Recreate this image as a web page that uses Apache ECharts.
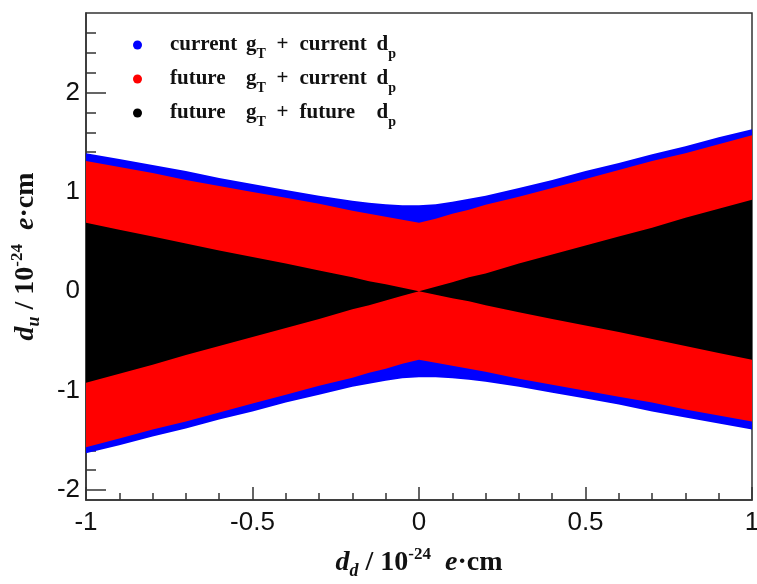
<!DOCTYPE html>
<html>
<head>
<meta charset="utf-8">
<script src="https://cdn.jsdelivr.net/npm/echarts@6/dist/echarts.min.js"></script>
<style>
html,body{margin:0;padding:0;background:#fff;}
#main{width:757px;height:584px;}
</style>
</head>
<body>
<div id="main"></div>
<script>
// x grid of d_d values
const xs = [-1,-0.9,-0.8,-0.7,-0.6,-0.5,-0.4,-0.3,-0.2,-0.15,-0.1,-0.05,0,0.05,0.1,0.15,0.2,0.3,0.4,0.5,0.6,0.7,0.8,0.9,1];
// current gT + current dp (blue)
const blueUpper = [1.39,1.33,1.27,1.21,1.14,1.08,1.02,0.96,0.91,0.89,0.875,0.865,0.865,0.875,0.90,0.93,0.96,1.04,1.12,1.21,1.29,1.38,1.46,1.55,1.63];
const blueLower = [-1.63,-1.55,-1.46,-1.38,-1.29,-1.21,-1.12,-1.04,-0.96,-0.93,-0.90,-0.875,-0.865,-0.865,-0.875,-0.89,-0.91,-0.96,-1.02,-1.08,-1.14,-1.21,-1.27,-1.33,-1.39];
// future gT + current dp (red)
const redUpper = [1.31,1.25,1.19,1.12,1.06,1.00,0.94,0.88,0.81,0.78,0.75,0.72,0.69,0.73,0.78,0.82,0.87,0.95,1.04,1.13,1.22,1.31,1.39,1.48,1.57];
const redLower = [-1.57,-1.48,-1.39,-1.31,-1.22,-1.13,-1.04,-0.95,-0.87,-0.82,-0.78,-0.73,-0.69,-0.72,-0.75,-0.78,-0.81,-0.88,-0.94,-1.00,-1.06,-1.12,-1.19,-1.25,-1.31];
// future gT + future dp (black)
const blackUpper = [0.69,0.62,0.55,0.48,0.41,0.345,0.28,0.21,0.14,0.10,0.07,0.035,0,0.046,0.092,0.14,0.18,0.28,0.37,0.46,0.55,0.64,0.74,0.83,0.92];
const blackLower = [-0.92,-0.83,-0.74,-0.64,-0.55,-0.46,-0.37,-0.28,-0.18,-0.14,-0.092,-0.046,0,-0.035,-0.07,-0.10,-0.14,-0.21,-0.28,-0.345,-0.41,-0.48,-0.55,-0.62,-0.69];

const seriesNames = ['current gT + current dp','future gT + current dp','future gT + future dp'];
const legendFirst = ['current','future','future'];
const legendSecond = ['current','current','future'];
const yMajorTicks = [-2,-1,0,1,2];
const yMinorTicks = [-2,-1.8,-1.6,-1.4,-1.2,-1,-0.8,-0.6,-0.4,-0.2,0,0.2,0.4,0.6,0.8,1,1.2,1.4,1.6,1.8,2,2.2,2.4,2.6];

const bands = [
  {name: seriesNames[0], upper: blueUpper, lower: blueLower, color: '#0000ff'},
  {name: seriesNames[1], upper: redUpper, lower: redLower, color: '#ff0000'},
  {name: seriesNames[2], upper: blackUpper, lower: blackLower, color: '#000000'}
];

const SERIF = '"Liberation Serif", "Times New Roman", serif';
const SANS = '"Liberation Sans", Arial, sans-serif';
const AX = '#333';

function bandSeries(b) {
  return {
    type: 'custom',
    name: b.name,
    xAxisIndex: 0, yAxisIndex: 0,
    clip: true,
    itemStyle: {color: b.color},
    data: [[0, 0]],
    renderItem: function (params, api) {
      const pts = [];
      for (let i = 0; i < xs.length; i++) pts.push(api.coord([xs[i], b.upper[i]]));
      for (let i = xs.length - 1; i >= 0; i--) pts.push(api.coord([xs[i], b.lower[i]]));
      return {type: 'polygon', shape: {points: pts}, style: {fill: b.color}};
    }
  };
}

const titleRich = {
  i: {fontFamily: SERIF, fontWeight: 'bold', fontStyle: 'italic', fontSize: 28, color: '#111', lineHeight: 32},
  sub: {fontFamily: SERIF, fontWeight: 'bold', fontStyle: 'italic', fontSize: 18, color: '#111', lineHeight: 32, padding: [16, 0, 0, 0]},
  n: {fontFamily: SERIF, fontWeight: 'bold', fontSize: 28, color: '#111', lineHeight: 32},
  sup: {fontFamily: SERIF, fontWeight: 'bold', fontSize: 17, color: '#111', lineHeight: 32, padding: [0, 0, 16, 0]}
};

const legRich = {
  sp: {width: 23, fontSize: 21, lineHeight: 24},
  w: {fontFamily: SERIF, fontWeight: 'bold', fontSize: 21, width: 76, lineHeight: 24, color: '#111'},
  g: {fontFamily: SERIF, fontWeight: 'bold', fontSize: 21, lineHeight: 24, color: '#111'},
  s: {fontFamily: SERIF, fontWeight: 'bold', fontSize: 14, lineHeight: 24, width: 20, padding: [18, 0, 0, 0], color: '#111'},
  pl: {fontFamily: SERIF, fontWeight: 'bold', fontSize: 21, lineHeight: 24, width: 23, color: '#111'},
  w2: {fontFamily: SERIF, fontWeight: 'bold', fontSize: 21, width: 77, lineHeight: 24, color: '#111'},
  s2: {fontFamily: SERIF, fontWeight: 'bold', fontSize: 14, lineHeight: 24, padding: [18, 0, 0, 0], color: '#111'}
};

const chart = echarts.init(document.getElementById('main'), null, {renderer: 'canvas'});
chart.setOption({
  animation: false,
  backgroundColor: '#fff',
  grid: {left: 86, right: 5, top: 13, bottom: 84, show: true, borderColor: AX, borderWidth: 1.5,
    backgroundColor: 'transparent', outerBoundsMode: 'none', containLabel: false},
  legend: {
    orient: 'vertical', left: 128, top: 24,
    icon: 'circle', itemWidth: 9, itemHeight: 9, itemGap: 2,
    data: seriesNames,
    selectedMode: false,
    formatter: function (name) {
      const k = seriesNames.indexOf(name);
      return '{sp| }{w|' + legendFirst[k] + '}{g|g}{s|T}{pl|+}{w2|' + legendSecond[k] + '}{g|d}{s2|p}';
    },
    textStyle: {rich: legRich}
  },
  xAxis: {
    type: 'value', min: -1, max: 1, interval: 0.5,
    axisLine: {onZero: false, lineStyle: {color: AX, width: 1.5}},
    axisTick: {inside: true, length: 13, lineStyle: {color: AX, width: 1.5}},
    minorTick: {show: true, splitNumber: 5, length: 7, lineStyle: {color: AX, width: 1.5}},
    splitLine: {show: false},
    axisLabel: {fontFamily: SANS, fontSize: 26, color: '#111', margin: 10,
      formatter: function (v) { return String(v); }},
    name: '{i|d}{sub|d}{n| / 10}{sup|-24}{n|  }{i|e}{n|·cm}',
    nameLocation: 'middle', nameGap: 47,
    nameTextStyle: {rich: titleRich}
  },
  yAxis: [{
    type: 'value', min: -2.1, max: 2.8,
    axisLine: {show: true, onZero: false, lineStyle: {color: AX, width: 1.5}},
    axisTick: {show: true, inside: true, length: 20, customValues: yMajorTicks, lineStyle: {color: AX, width: 1.5}},
    splitLine: {show: false},
    axisLabel: {fontFamily: SANS, fontSize: 26, color: '#111', margin: 6, customValues: yMajorTicks,
      formatter: function (v) { return String(v); }},
    name: '{i|d}{sub|u}{n| / 10}{sup|-24}{n|  }{i|e}{n|·cm}',
    nameLocation: 'middle', nameGap: 44, nameRotate: 90,
    nameTextStyle: {rich: titleRich}
  }, {
    type: 'value', min: -2.1, max: 2.8, position: 'left', offset: 0,
    axisLine: {show: false, onZero: false},
    axisTick: {show: true, inside: true, length: 10, customValues: yMinorTicks, lineStyle: {color: AX, width: 1.5}},
    axisLabel: {show: false},
    splitLine: {show: false}
  }],
  series: bands.map(bandSeries)
});
</script>
</body>
</html>
